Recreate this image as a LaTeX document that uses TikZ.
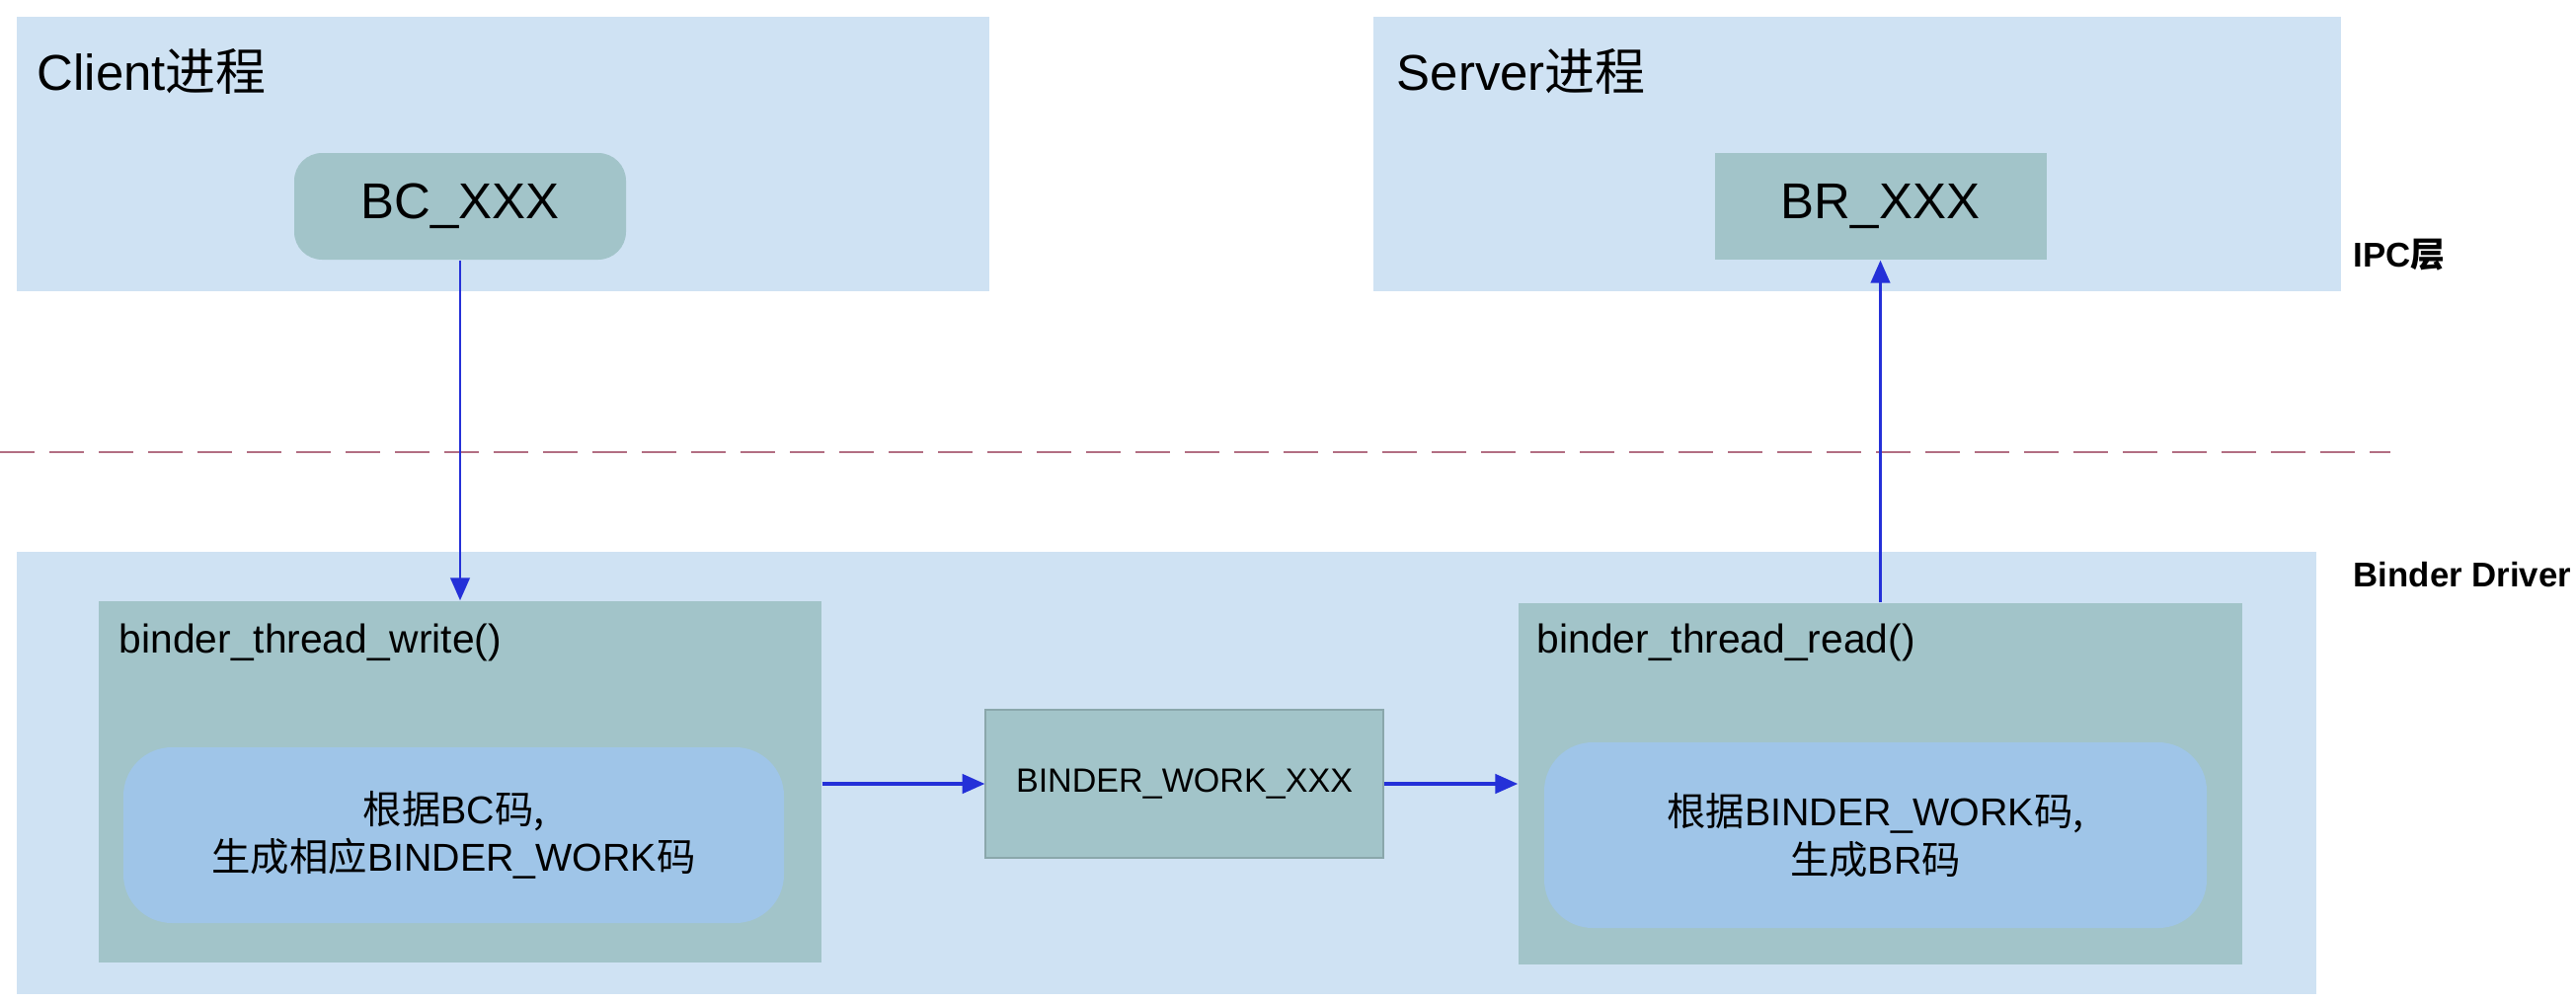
\documentclass[tikz,border=0pt]{standalone}
\usepackage{fontspec}
\setmainfont{Liberation Sans}
\newfontfamily\cjk{Noto Sans CJK SC}
\usetikzlibrary{positioning,arrows.meta}
\definecolor{layerbg}{HTML}{CFE2F3}
\definecolor{boxbg}{HTML}{A2C4C9}
\definecolor{innerbg}{HTML}{9FC5E8}
\definecolor{flowblue}{HTML}{2430D8}
\definecolor{sepline}{HTML}{B26E82}
\tikzset{
  >={Triangle[length=6.5pt,width=5.5pt]},
  layer/.style={
    fill=layerbg,
    inner sep=0pt
  },
  codebox/.style={
    fill=boxbg,
    align=center,
    inner sep=0pt
  },
  innerbox/.style={
    fill=innerbg,
    rounded corners=14pt,
    align=center,
    inner sep=0pt,
    font=\fontsize{11.2}{13.8}\selectfont
  },
  flow/.style={->, draw=flowblue, line width=0.8pt}
}
\begin{document}
\begin{tikzpicture}[
      every node/.style={font=\fontsize{11.6}{13}\selectfont},
      layerlabel/.style={anchor=west, inner sep=0pt, font=\fontsize{14.5}{17}\selectfont},
      sidelabel/.style={anchor=west, inner sep=0pt, font=\fontsize{9.9}{12}\selectfont\bfseries}
    ]
      \useasboundingbox (0,0) rectangle (26.09,-10.13);

      \node[layer, minimum width=9.85cm, minimum height=2.78cm] (client) at (5.095,-1.56) {};
      \node[layer, minimum width=9.80cm, minimum height=2.78cm] (server) at (18.81,-1.56) {};
      \node[layer, minimum width=23.29cm, minimum height=4.48cm] (driver) at (11.815,-7.83) {};

      \node[layerlabel] (clientlbl) at (0.37,-0.72) {Client{\cjk 进程}};
      \node[layerlabel] (serverlbl) at (14.14,-0.72) {Server{\cjk 进程}};

      \node[codebox, rounded corners=8pt, minimum width=3.36cm, minimum height=1.08cm,
            font=\fontsize{14.5}{17}\selectfont] (bcx) at (4.66,-2.09) {BC\_XXX};
      \node[codebox, minimum width=3.36cm, minimum height=1.08cm,
            font=\fontsize{14.5}{17}\selectfont] (brx) at (19.045,-2.09) {BR\_XXX};

      \node[sidelabel] (ipc) at (23.83,-2.58) {IPC{\cjk 层}};
      \node[sidelabel] (drv) at (23.83,-5.82) {Binder Driver};

      \coordinate (sepl) at (0,-4.58);
      \coordinate (sepr) at (24.21,-4.58);
      \draw[sepline, line width=0.7pt, dash pattern=on 0.35cm off 0.15cm] (sepl) -- (sepr);

      \node[codebox, minimum width=7.32cm, minimum height=3.66cm] (write) at (4.66,-7.92) {};
      \node[codebox, minimum width=7.33cm, minimum height=3.66cm] (read) at (19.045,-7.94) {};
      \node[anchor=west, inner sep=0pt] (writelbl) at (1.20,-6.51) {binder\_thread\_write()};
      \node[anchor=west, inner sep=0pt] (readlbl) at (15.56,-6.51) {binder\_thread\_read()};

      \node[innerbox, minimum width=6.69cm, minimum height=1.78cm] (gen) at (4.595,-8.46)
        {{\cjk 根据}BC{\cjk 码,}\\{\cjk 生成相应}BINDER\_WORK{\cjk 码}};
      \node[innerbox, minimum width=6.71cm, minimum height=1.88cm] (parse) at (18.995,-8.46)
        {{\cjk 根据}BINDER\_WORK{\cjk 码,}\\{\cjk 生成}BR{\cjk 码}};

      \node[codebox, draw=boxbg!85!black, line width=0.3pt, minimum width=4.03cm, minimum height=1.5cm,
            font=\fontsize{9.7}{12}\selectfont] (work) at (11.995,-7.94) {BINDER\_WORK\_XXX};

      \draw[flow] (bcx.south) -- (write.north);
      \draw[flow, line width=1pt] (write.east |- work.west) -- (work.west);
      \draw[flow, line width=1pt] (work.east) -- (read.west |- work.east);
      \draw[flow] (read.north) -- (brx.south);
    \end{tikzpicture}
\end{document}
